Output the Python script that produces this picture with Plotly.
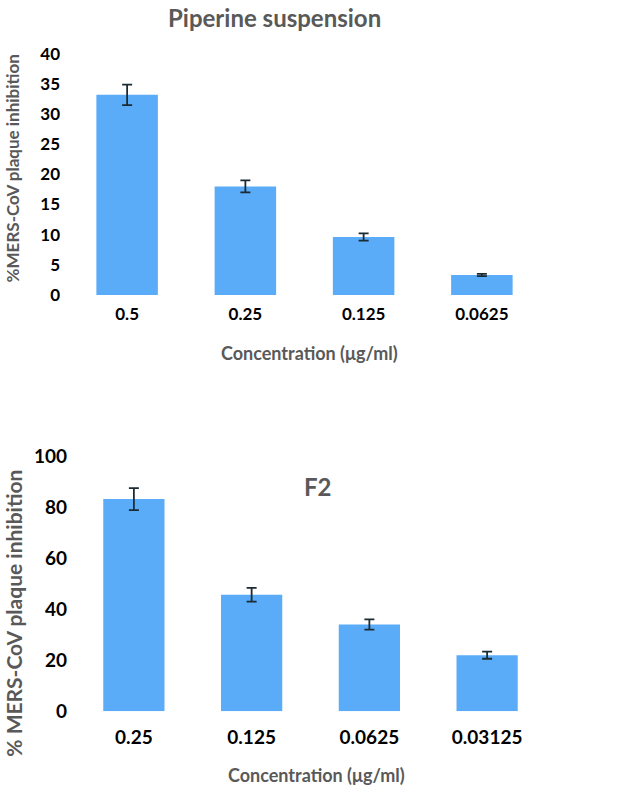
import plotly.graph_objects as go

# Piperine suspension panel
conc_top = ["0.5", "0.25", "0.125", "0.0625"]
inhib_top = [33.2, 18.0, 9.6, 3.3]
err_top = [1.7, 1.0, 0.6, 0.2]

# F2 panel
conc_bot = ["0.25", "0.125", "0.0625", "0.03125"]
inhib_bot = [83.2, 45.7, 34.0, 22.0]
err_bot = [4.3, 2.7, 2.0, 1.4]

bar_color = "#5aacf8"
err_color = "#1c2b33"
font_family = "Lato, 'Open Sans', sans-serif"


def py(px):
    """pixel row (from top) -> paper y"""
    return (782 - px) / 771


def px_x(px):
    return px / 633


fig = go.Figure()
fig.add_trace(go.Bar(
    x=conc_top, y=inhib_top, xaxis="x", yaxis="y",
    marker=dict(color=bar_color, line=dict(width=0)),
    error_y=dict(type="data", array=err_top, visible=True, color=err_color, thickness=1.8, width=5),
    showlegend=False,
))
fig.add_trace(go.Bar(
    x=conc_bot, y=inhib_bot, xaxis="x2", yaxis="y2",
    marker=dict(color=bar_color, line=dict(width=0)),
    error_y=dict(type="data", array=err_bot, visible=True, color=err_color, thickness=1.8, width=5),
    showlegend=False,
))

tickfont_top = dict(family=font_family, size=17, color="black", weight="bold")
tickfont_bot = dict(family=font_family, size=19, color="black", weight="bold")
common_axis = dict(showgrid=False, zeroline=False, showline=False, fixedrange=True, ticks="")

fig.update_layout(
    width=633, height=791,
    margin=dict(l=0, r=0, t=0, b=0),
    paper_bgcolor="white", plot_bgcolor="white",
    bargap=0.48,
    font=dict(family=font_family),
    xaxis=dict(domain=[px_x(68), px_x(541)], anchor="y", ticklabelstandoff=7,
               tickfont=tickfont_top, **common_axis),
    yaxis=dict(domain=[py(295), py(53)], anchor="x", range=[0, 40],
               tickvals=[0, 5, 10, 15, 20, 25, 30, 35, 40], ticklabelstandoff=7,
               tickfont=tickfont_top, **common_axis),
    xaxis2=dict(domain=[px_x(75), px_x(546)], anchor="y2", ticklabelstandoff=13,
                tickfont=tickfont_bot, **common_axis),
    yaxis2=dict(domain=[py(713), py(457)], anchor="x2", range=[0, 100],
                tickvals=[0, 20, 40, 60, 80, 100], ticklabelstandoff=7,
                tickfont=tickfont_bot, **common_axis),
)

title_font = dict(family=font_family, size=24, color="#595959", weight="bold")
xt_font = dict(family=font_family, size=18, color="#595959", weight="bold")
yt_font_top = dict(family=font_family, size=17, color="#595959", weight="bold")
yt_font_bot = dict(family=font_family, size=21, color="#595959", weight="bold")

annotations = [
    dict(text="Piperine suspension", x=274, y=17, font=title_font),
    dict(text="F2", x=318, y=487, font=title_font),
    dict(text="Concentration (μg/ml)", x=309, y=353, font=xt_font),
    dict(text="Concentration (μg/ml)", x=316, y=777, font=xt_font),
    dict(text="%MERS-CoV plaque inhibition", x=12, y=168, font=yt_font_top, textangle=-90),
    dict(text="% MERS-CoV plaque inhibition", x=14, y=615, font=yt_font_bot, textangle=-90),
]
for a in annotations:
    fig.add_annotation(
        text=a["text"], x=px_x(a["x"]), y=py(a["y"]), xref="paper", yref="paper",
        showarrow=False, font=a["font"], textangle=a.get("textangle", 0),
        xanchor="center", yanchor="middle",
    )

fig.write_html(
    "out.html",
    config={"displayModeBar": False},
    post_script="document.body.style.margin='0';document.body.style.overflow='hidden';",
)
